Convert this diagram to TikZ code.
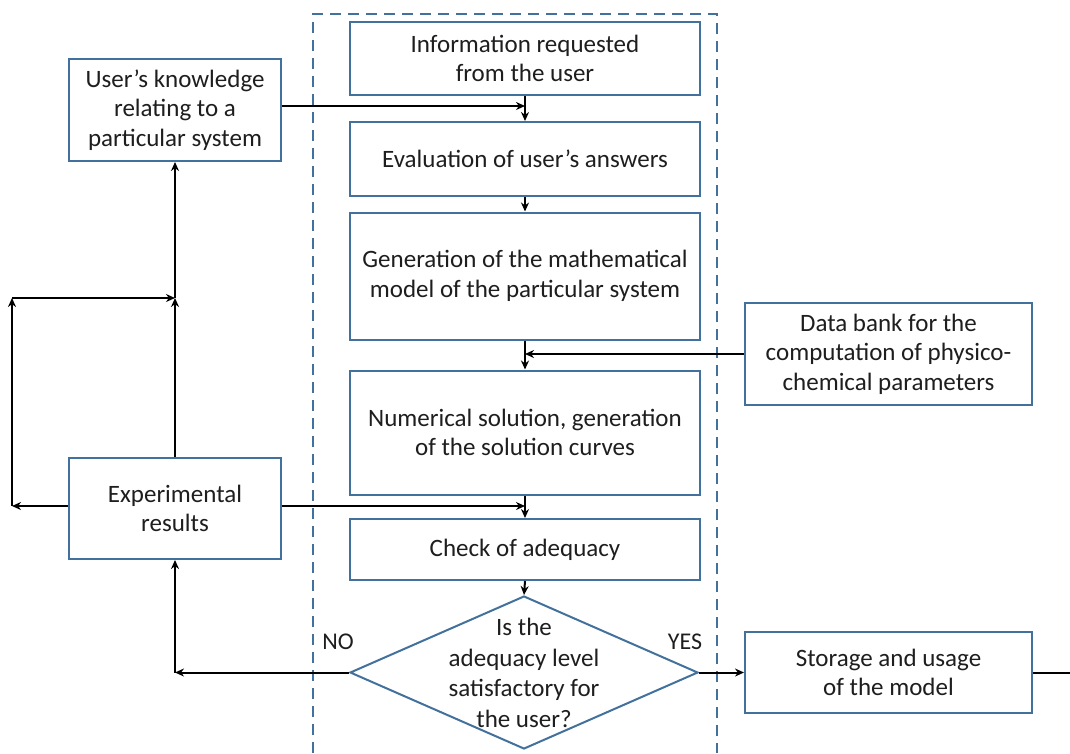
\documentclass[tikz,border=0pt]{standalone}
\usepackage{fontspec}
\setmainfont{Carlito}
\usetikzlibrary{arrows.meta,shapes.geometric}
\definecolor{boxblue}{RGB}{65,113,156}
\definecolor{txt}{RGB}{30,30,30}
\begin{document}
\begin{tikzpicture}[x=1pt,y=-1pt,
  box/.style={draw=boxblue,line width=2pt,fill=white,align=center,inner sep=0pt,
              font=\fontsize{25}{29.5}\selectfont,text=txt},
  dia/.style={diamond,draw=boxblue,line width=2pt,fill=white,inner sep=0pt},
  lbl/.style={font=\fontsize{24}{29}\selectfont,text=txt,align=center,inner sep=0pt},
  arr/.style={line width=2pt,-{Stealth[length=9pt,width=8pt]}},
  ln/.style={line width=2pt}]
\useasboundingbox (0,0) rectangle (1070,753);
% dashed frame
\draw[boxblue,line width=2pt,dash pattern=on 11pt off 7pt] (313,753) -- (313,14) -- (717,14) -- (717,753);
% boxes
\node[box,minimum width=350pt,minimum height=73pt] (b1) at (525,58.5) {Information requested\\from the user};
\node[box,minimum width=350pt,minimum height=74pt] (b2) at (525,159) {Evaluation of user’s answers};
\node[box,minimum width=350pt,minimum height=127pt] (b3) at (525,276) {Generation of the mathematical\\model of the particular system};
\node[box,minimum width=350pt,minimum height=124pt] (b4) at (525,432.5) {Numerical solution, generation\\of the solution curves};
\node[box,minimum width=350pt,minimum height=61pt] (b5) at (525,549.5) {Check of adequacy};
\node[box,minimum width=212pt,minimum height=102pt] (uk) at (175,110) {User’s knowledge\\relating to a\\particular system};
\node[box,minimum width=212pt,minimum height=101pt] (ex) at (175,508.5) {Experimental\\results};
\node[box,minimum width=287pt,minimum height=102pt] (db) at (888.5,354) {Data bank for the\\computation of physico-\\chemical parameters};
\node[box,minimum width=287pt,minimum height=81pt] (st) at (888.5,672.5) {Storage and usage\\of the model};
\node[dia,minimum width=348pt,minimum height=153pt] (d) at (524,672.5) {};
\node[lbl,font=\fontsize{25}{30.5}\selectfont] (dt) at (524,673) {Is the\\adequacy level\\satisfactory for\\the user?};
\node[lbl] (no) at (338,642) {NO};
\node[lbl] (yes) at (685,642) {YES};
% helper coordinates
\coordinate (j1) at (525,106);
\coordinate (j2) at (525,506);
\coordinate (l1) at (12,506);
\coordinate (l2) at (12,298);
\coordinate (j3) at (175,298);
\coordinate (r1) at (1070,672.5);
% connectors
\draw[arr] (b1.south) -- (b2.north);
\draw[arr] (uk.east |- j1) -- (j1);
\draw[arr] (b2.south) -- (b3.north);
\draw[arr] (b3.south) -- (b4.north);
\draw[arr] (db.west) -- (db.west -| b3.south);
\draw[arr] (b4.south) -- (b5.north);
\draw[arr] (ex.east |- j2) -- (j2);
\draw[arr] (b5.south) -- (d.north);
\draw[arr] (d.east) -- (st.west);
\draw[ln] (st.east) -- (r1);
\coordinate (n1) at (d.west -| ex.south);
\draw[arr] (d.west) -- (n1);
\draw[arr] (n1) -- (ex.south);
\draw[arr] (ex.west |- j2) -- (l1);
\draw[arr] (l1) -- (l2);
\draw[arr] (l2) -- (j3);
\draw[arr] (ex.north) -- (j3);
\draw[arr] (j3) -- (uk.south);
\end{tikzpicture}
\end{document}
